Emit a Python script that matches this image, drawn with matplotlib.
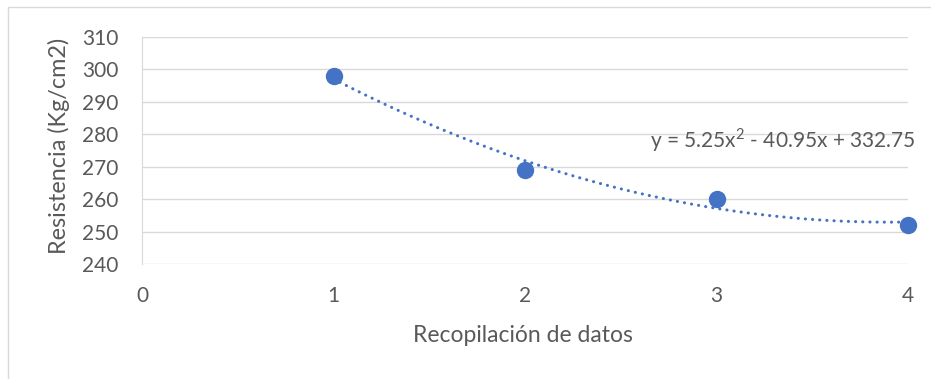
import matplotlib.pyplot as plt
import numpy as np
from matplotlib.patches import Rectangle

# datos
recopilacion = [1, 2, 3, 4]
resistencia = [298, 269, 260, 252]
# coeficientes de la línea de tendencia (polinómica de grado 2)
coef = [5.25, -40.95, 332.75]
ecuacion = "y = 5.25x$^2$ - 40.95x + 332.75"

plt.rcParams['font.family'] = ['Lato', 'DejaVu Sans']
plt.rcParams['mathtext.fontset'] = 'custom'
plt.rcParams['mathtext.rm'] = 'Lato'
gris = '#595959'
azul = '#4472C4'

fig = plt.figure(figsize=(9.31, 3.79), dpi=100)
fig.patches.append(Rectangle((8 / 931, -0.1), 1.2, 1 - 7 / 379 + 0.1,
                             transform=fig.transFigure, fill=False,
                             edgecolor='#d9d9d9', linewidth=1))
ax = fig.add_axes([142 / 931, 1 - 264 / 379, 766 / 931, 227 / 379])

# línea de tendencia
xt = np.linspace(recopilacion[0], recopilacion[-1], 200)
ax.plot(xt, np.polyval(coef, xt), color=azul, linewidth=2.2,
        linestyle=(0, (0.05, 2.3)), dash_capstyle='round', zorder=3)
ax.plot(recopilacion, resistencia, 'o', color=azul, markersize=11.5,
        clip_on=False, zorder=4)

ax.set_xlim(0, 4)
ax.set_ylim(240, 310)
ax.set_xticks([0, 1, 2, 3, 4])
ax.set_yticks(range(240, 311, 10))
ax.grid(axis='y', color='#d9d9d9', linewidth=1)
ax.set_axisbelow(True)
for s in ['top', 'right', 'bottom']:
    ax.spines[s].set_visible(False)
ax.spines['left'].set_color('#d9d9d9')
ax.tick_params(axis='both', length=0, labelsize=15, labelcolor=gris)
ax.tick_params(axis='y', pad=17)
ax.tick_params(axis='x', pad=16)

ax.set_ylabel('Resistencia (Kg/cm2)', fontsize=16.8, color=gris)
ax.set_xlabel('Recopilación de datos', fontsize=16.5, color=gris)
ax.yaxis.set_label_coords(-0.109, 0.52)
ax.yaxis.label.set_horizontalalignment('center')
ax.yaxis.label.set_verticalalignment('center')
ax.xaxis.set_label_coords(0.497, -0.313)
ax.xaxis.label.set_verticalalignment('center')

ax.text(4.04, 278.2, ecuacion, ha='right', va='center', fontsize=15,
        color=gris)

plt.savefig('out.png', dpi=100)
